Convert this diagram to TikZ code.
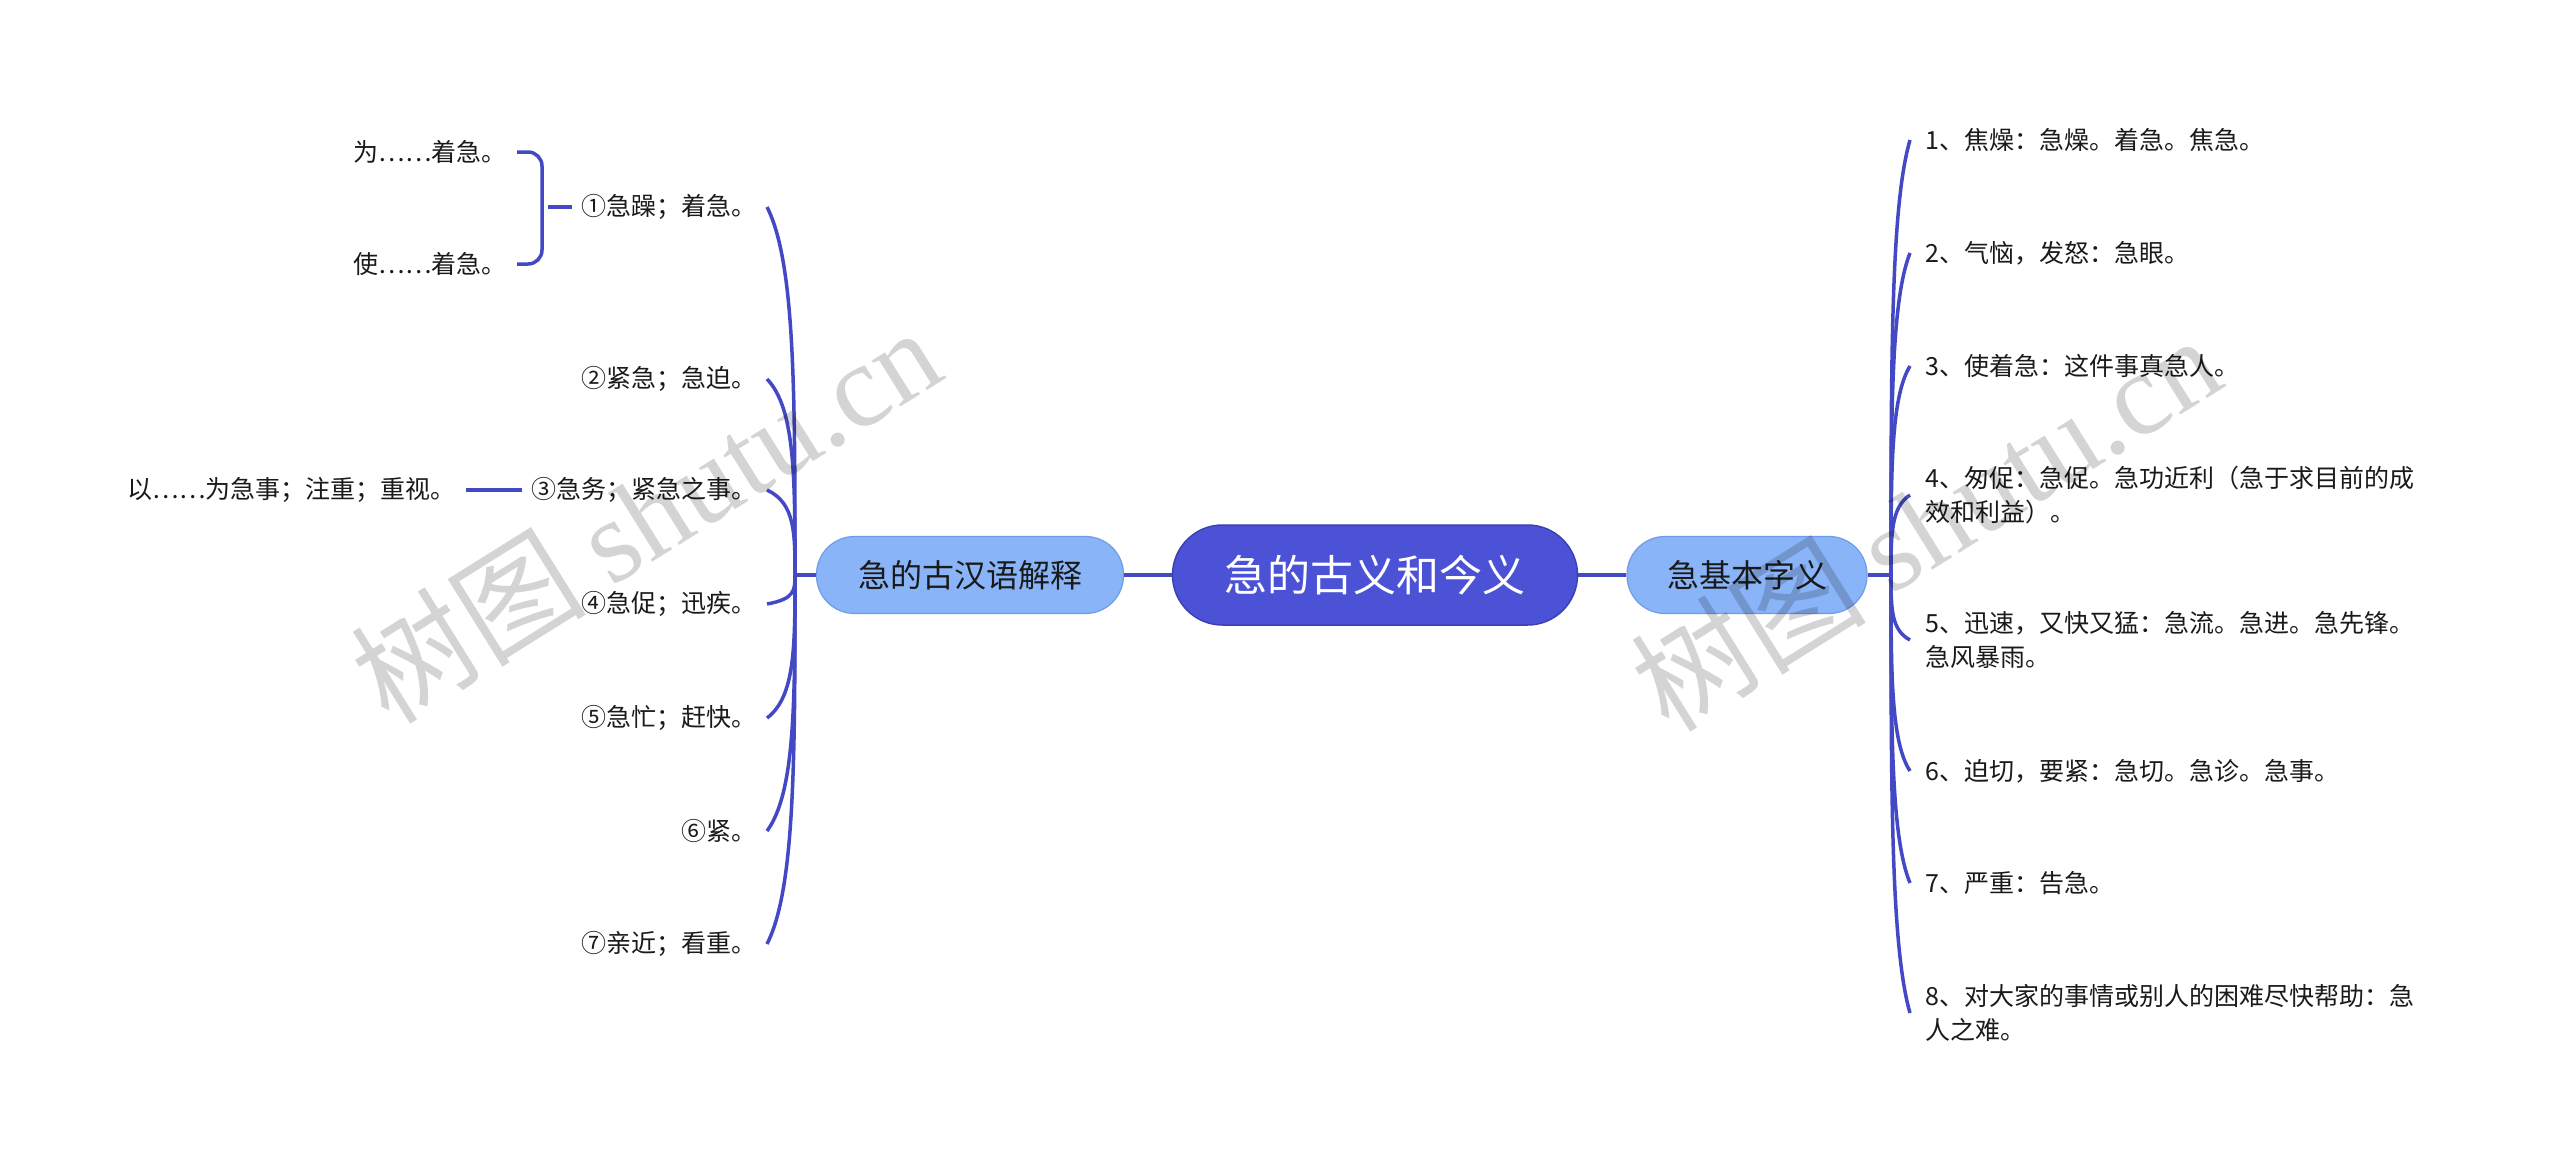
\documentclass[tikz,border=0pt]{standalone}
\usepackage{fontspec}
\setmainfont{Noto Sans CJK SC}
\newfontfamily\wmserif{Liberation Serif}
\definecolor{rootfill}{HTML}{4B52D6}
\definecolor{rootdraw}{HTML}{3B41B5}
\definecolor{subfill}{HTML}{8AB4F8}
\definecolor{subdraw}{HTML}{6F9BE8}
\definecolor{lc}{HTML}{4349C4}
\definecolor{txt}{HTML}{1A1A1A}
\begin{document}
\begin{tikzpicture}[x=1pt,y=-1pt,
  rootbox/.style={fill=rootfill,draw=rootdraw,line width=1.5pt,rounded corners=50pt,minimum height=100pt,minimum width=405pt,inner sep=0pt,text=white,font=\fontsize{43}{50}\selectfont},
  subbox/.style={fill=subfill,draw=subdraw,line width=1.2pt,rounded corners=38pt,minimum height=77pt,inner sep=0pt,text=txt,font=\fontsize{32}{40}\selectfont},
  leaf/.style={inner xsep=10pt,inner ysep=2pt,text=txt,font=\fontsize{25}{34}\selectfont},
  rleaf/.style={inner xsep=15pt,inner ysep=2pt,text=txt,align=left,font=\fontsize{25}{34}\selectfont},
  conn/.style={draw=lc,line width=3.5pt},
  wm/.style={text=black,text opacity=0.17,font=\fontsize{118}{125}\selectfont,inner sep=0pt}
]
\useasboundingbox (0,0) rectangle (2560,1167);
\fill[white] (0,0) rectangle (2560,1167);

% main nodes
\node[rootbox] (root) at (1375,575) {急的古义和今义};
\node[subbox,minimum width=307pt] (lsub) at (970,575) {急的古汉语解释};
\node[subbox,minimum width=240pt] (rsub) at (1747,575) {急基本字义};
\coordinate (L0) at (795,575);
\coordinate (R0) at (1891,575);

% left leaves
\node[leaf,anchor=east] (a1) at (767,207) {①急躁；着急。};
\node[leaf,anchor=east] (a2) at (767,379) {②紧急；急迫。};
\node[leaf,anchor=east] (a3) at (767,490) {③急务；紧急之事。};
\node[leaf,anchor=east] (a4) at (767,604) {④急促；迅疾。};
\node[leaf,anchor=east] (a5) at (767,718) {⑤急忙；赶快。};
\node[leaf,anchor=east] (a6) at (767,831) {⑥紧。};
\node[leaf,anchor=east] (a7) at (767,944) {⑦亲近；看重。};

\node[leaf,anchor=east] (w1) at (517,152) {为……着急。};
\node[leaf,anchor=east] (w2) at (517,264) {使……着急。};
\node[leaf,anchor=east] (b3) at (466,490) {以……为急事；注重；重视。};

% right leaves
\node[rleaf,anchor=west] (r1) at (1910,140) {1、焦燥：急燥。着急。焦急。};
\node[rleaf,anchor=west] (r2) at (1910,253) {2、气恼，发怒：急眼。};
\node[rleaf,anchor=west] (r3) at (1910,366) {3、使着急：这件事真急人。};
\node[rleaf,anchor=west] (r4) at (1910,495) {4、匆促：急促。急功近利（急于求目前的成\\效和利益）。};
\node[rleaf,anchor=west] (r5) at (1910,640) {5、迅速，又快又猛：急流。急进。急先锋。\\急风暴雨。};
\node[rleaf,anchor=west] (r6) at (1910,771) {6、迫切，要紧：急切。急诊。急事。};
\node[rleaf,anchor=west] (r7) at (1910,883) {7、严重：告急。};
\node[rleaf,anchor=west] (r8) at (1910,1013) {8、对大家的事情或别人的困难尽快帮助：急\\人之难。};

% connectors
\draw[conn] (root.west) -- (lsub.east);
\draw[conn] (root.east) -- (rsub.west);
\draw[conn] (lsub.west) -- (L0);
\draw[conn] (rsub.east) -- (R0);

\draw[conn] (L0) .. controls +(0,-184) and +(28,55) .. (a1.east);
\draw[conn] (L0) .. controls +(0,-98) and +(28,29) .. (a2.east);
\draw[conn] (L0) .. controls +(0,-42) and +(28,13) .. (a3.east);
\draw[conn] (L0) .. controls +(0,15) and +(28,-5) .. (a4.east);
\draw[conn] (L0) .. controls +(0,72) and +(28,-21) .. (a5.east);
\draw[conn] (L0) .. controls +(0,128) and +(28,-38) .. (a6.east);
\draw[conn] (L0) .. controls +(0,185) and +(28,-55) .. (a7.east);

\draw[conn] (R0) .. controls +(0,-218) and +(-19,65) .. (r1.west);
\draw[conn] (R0) .. controls +(0,-161) and +(-19,48) .. (r2.west);
\draw[conn] (R0) .. controls +(0,-105) and +(-19,31) .. (r3.west);
\draw[conn] (R0) .. controls +(0,-40) and +(-19,12) .. (r4.west);
\draw[conn] (R0) .. controls +(0,33) and +(-19,-10) .. (r5.west);
\draw[conn] (R0) .. controls +(0,98) and +(-19,-29) .. (r6.west);
\draw[conn] (R0) .. controls +(0,154) and +(-19,-46) .. (r7.west);
\draw[conn] (R0) .. controls +(0,219) and +(-19,-66) .. (r8.west);

% bracket for item 1
\draw[conn,rounded corners=14pt] (w1.east) -- ++(25,0) |- (w2.east);
\draw[conn] (a1.west) -- ++(-24,0);
\draw[conn] (b3.east) -- (a3.west);

% watermarks
\node[wm,rotate=32] (wmA) at (645,514) {树图 {\wmserif shutu.cn}};
\node[wm,rotate=32] (wmB) at (1925,522) {树图 {\wmserif shutu.cn}};
\end{tikzpicture}
\end{document}
